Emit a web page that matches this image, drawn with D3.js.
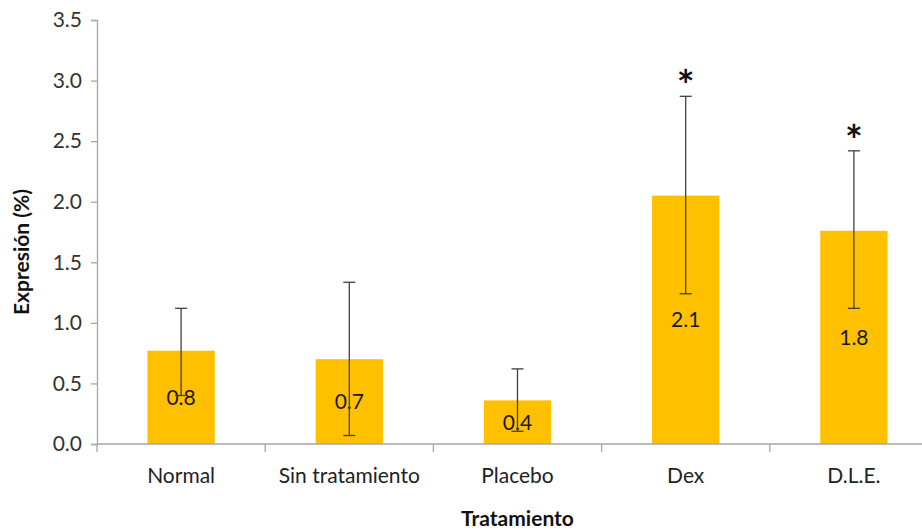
<!DOCTYPE html>
<html>
<head>
<meta charset="utf-8">
<script src="https://cdn.jsdelivr.net/npm/d3@7"></script>
<style>
  body { margin: 0; background: #fff; }
  svg { font-family: Lato, "Open Sans", sans-serif; }
</style>
</head>
<body>
<div id="chart"></div>
<script>
// Datos del gráfico
const categories = ['Normal', 'Sin tratamiento', 'Placebo', 'Dex', 'D.L.E.'];
const values     = [0.77, 0.70, 0.36, 2.05, 1.76];
const labels     = ['0.8', '0.7', '0.4', '2.1', '1.8'];
const errLow     = [0.40, 0.07, 0.105, 1.24, 1.12];
const errHigh    = [1.12, 1.335, 0.62, 2.87, 2.42];
const signif     = [false, false, false, true, true];
const yTicks     = [0, 0.5, 1.0, 1.5, 2.0, 2.5, 3.0, 3.5];

const W = 922, H = 531;
const margin = { top: 20, right: -16, bottom: 87, left: 97 };

const svg = d3.select('#chart').append('svg')
    .attr('width', W)
    .attr('height', H);

const x = d3.scaleBand()
    .domain(categories)
    .range([margin.left, W - margin.right])
    .paddingInner(0.6)
    .paddingOuter(0.3);

const y = d3.scaleLinear()
    .domain([0, 3.5])
    .range([H - margin.bottom, margin.top]);

const axisColor = '#a6a6a6';
const fontFam = 'Lato, "Open Sans", sans-serif';

// Barras
svg.append('g').selectAll('rect')
    .data(categories)
    .join('rect')
    .attr('x', d => x(d))
    .attr('width', x.bandwidth())
    .attr('y', (d, i) => y(values[i]))
    .attr('height', (d, i) => y(0) - y(values[i]))
    .attr('fill', '#ffc000');

// Etiquetas de valor (centro de la barra)
svg.append('g').selectAll('text')
    .data(categories)
    .join('text')
    .attr('x', d => x(d) + x.bandwidth() / 2)
    .attr('y', (d, i) => (y(values[i]) + y(0)) / 2)
    .attr('dy', '0.35em')
    .attr('text-anchor', 'middle')
    .attr('font-size', 21)
    .attr('fill', '#1a1a1a')
    .text((d, i) => labels[i]);

// Barras de error
const err = svg.append('g')
    .attr('stroke', '#404040')
    .attr('stroke-width', 1.3);
categories.forEach((c, i) => {
    const cx = x(c) + x.bandwidth() / 2;
    err.append('line')
        .attr('x1', cx).attr('x2', cx)
        .attr('y1', y(errLow[i])).attr('y2', y(errHigh[i]));
    [errLow[i], errHigh[i]].forEach(v => {
        err.append('line')
            .attr('x1', cx - 6).attr('x2', cx + 6)
            .attr('y1', y(v)).attr('y2', y(v));
    });
});

// Asteriscos de significancia
svg.append('g').selectAll('text')
    .data(categories.filter((c, i) => signif[i]))
    .join('text')
    .attr('x', d => x(d) + x.bandwidth() / 2)
    .attr('y', d => y(errHigh[categories.indexOf(d)]) + 5)
    .attr('text-anchor', 'middle')
    .attr('font-size', 42)
    .attr('font-weight', 'bold')
    .attr('fill', '#111')
    .text('*');

// Eje Y
const yAxis = svg.append('g')
    .attr('transform', `translate(${margin.left},0)`)
    .call(d3.axisLeft(y).tickValues(yTicks).tickFormat(d3.format('.1f')).tickSize(6).tickPadding(9))
    .attr('font-family', fontFam);
yAxis.selectAll('path, line').attr('stroke', axisColor).attr('stroke-width', 1.3);
yAxis.selectAll('text').attr('font-size', 21).attr('fill', '#333');

// Eje X
const xAxis = svg.append('g')
    .attr('transform', `translate(0,${y(0)})`)
    .call(d3.axisBottom(x).tickSize(0).tickPadding(24))
    .attr('font-family', fontFam);
xAxis.select('path').attr('d', `M${margin.left},0H${W}`).attr('stroke', axisColor).attr('stroke-width', 1.3);
xAxis.selectAll('text').attr('font-size', 21).attr('fill', '#222');

// Marcas entre categorías
const step = x.step();
const bounds = d3.range(categories.length + 1).map(i => margin.left + i * step);
svg.append('g').selectAll('line')
    .data(bounds)
    .join('line')
    .attr('x1', d => d).attr('x2', d => d)
    .attr('y1', y(0)).attr('y2', y(0) + 8)
    .attr('stroke', axisColor)
    .attr('stroke-width', 1.3);

// Títulos de ejes
svg.append('text')
    .attr('x', (margin.left + W - margin.right) / 2)
    .attr('y', 526)
    .attr('text-anchor', 'middle')
    .attr('font-size', 21)
    .attr('font-weight', 'bold')
    .attr('fill', '#111')
    .text('Tratamiento');

svg.append('text')
    .attr('transform', `translate(29,${252}) rotate(-90)`)
    .attr('text-anchor', 'middle')
    .attr('font-size', 21)
    .attr('font-weight', 'bold')
    .attr('fill', '#111')
    .text('Expresión (%)');
</script>
</body>
</html>
